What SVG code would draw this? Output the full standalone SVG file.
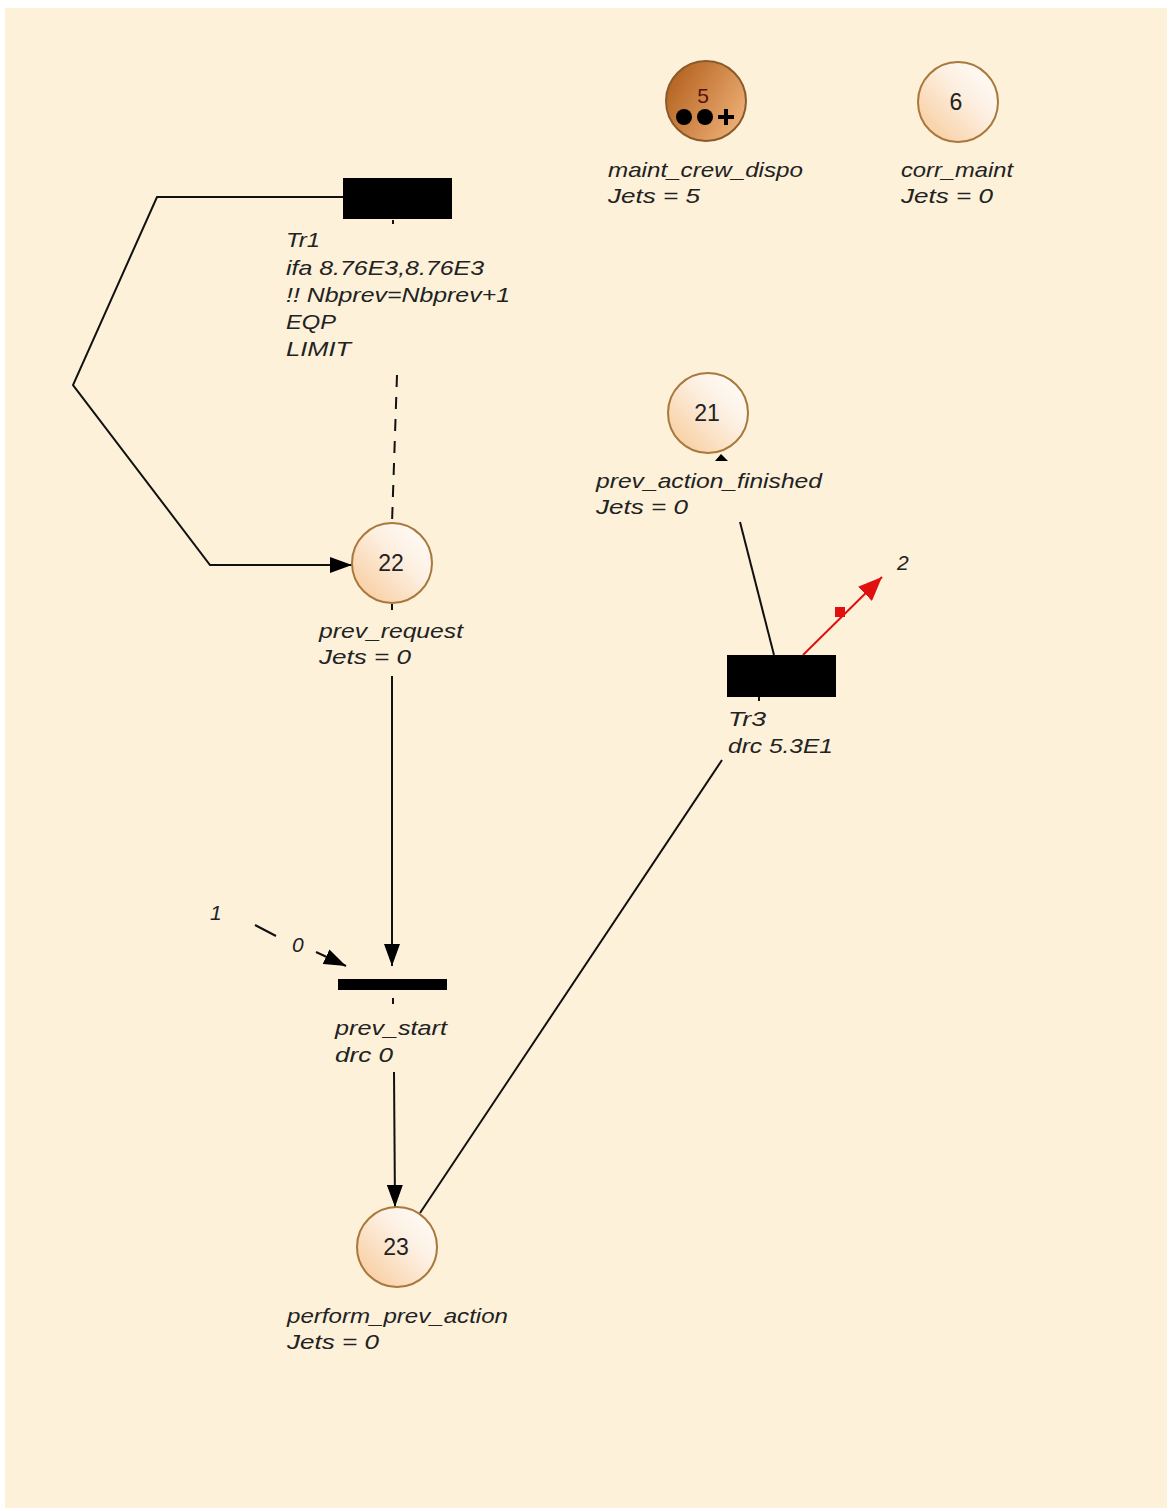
<svg xmlns="http://www.w3.org/2000/svg" width="1171" height="1511" viewBox="0 0 1171 1511">
<defs>
<linearGradient id="pl" x1="0" y1="1" x2="1" y2="0">
<stop offset="0" stop-color="#F7C794"/>
<stop offset="0.6" stop-color="#FDF0E2"/>
<stop offset="1" stop-color="#FFFFFF"/>
</linearGradient>
<linearGradient id="pd" x1="0" y1="0.2" x2="1" y2="0.8">
<stop offset="0" stop-color="#B2601C"/>
<stop offset="1" stop-color="#F0B27A"/>
</linearGradient>
<marker id="ahb" viewBox="0 0 22 16" refX="22" refY="8" markerWidth="22" markerHeight="16" markerUnits="userSpaceOnUse" orient="auto">
<path d="M0,0 L22,8 L0,16 z" fill="#000"/>
</marker>
<marker id="ahr" viewBox="0 0 24 20" refX="24" refY="10" markerWidth="24" markerHeight="20" markerUnits="userSpaceOnUse" orient="auto">
<path d="M0,0 L24,10 L0,20 z" fill="#E01010"/>
</marker>
</defs>
<style>
.bg{fill:#FDF1DA}
.place{fill:url(#pl);stroke:#A8783C;stroke-width:2}
.num{font-family:"Liberation Sans",Arial,sans-serif;font-size:23px;fill:#222;text-anchor:middle}
.lbl{font-family:"Liberation Sans",Arial,sans-serif;font-style:italic;font-size:21px;fill:#222}
.tr{fill:#000}
.arc{stroke:#111;stroke-width:2;fill:none}
</style>
<rect x="0" y="0" width="1171" height="1511" fill="#FFFFFF"/>
<rect class="bg" x="5" y="8" width="1162" height="1500"/>

<g id="connectors">
<polyline class="arc" points="343,197 157,197 73,385 210,565 352,565" marker-end="url(#ahb)"/>
<line class="arc" x1="397" y1="375" x2="392" y2="523" stroke-dasharray="12,10"/>
<line class="arc" x1="392" y1="676" x2="392" y2="966" marker-end="url(#ahb)"/>
<line class="arc" x1="394" y1="1072" x2="395" y2="1207" marker-end="url(#ahb)"/>
<line class="arc" x1="420" y1="1213" x2="722" y2="760"/>
<line class="arc" x1="774" y1="655" x2="740" y2="522"/>
<path d="M715,461 L721,454 L728,461 z" fill="#000"/>
<line x1="803" y1="655" x2="882" y2="577" stroke="#E01010" stroke-width="2" marker-end="url(#ahr)"/>
<rect x="835" y="607" width="10" height="10" fill="#E01010"/>
<line class="arc" x1="255" y1="925" x2="276" y2="936"/>
<line class="arc" x1="316" y1="952" x2="346" y2="966" marker-end="url(#ahb)"/>
<line class="arc" x1="393" y1="220" x2="393" y2="224"/>
<line class="arc" x1="392" y1="604" x2="392" y2="610"/>
<line class="arc" x1="393" y1="998" x2="393" y2="1004"/>
<line class="arc" x1="759" y1="697" x2="759" y2="701"/>
<text class="lbl" x="897" y="570">2</text>
<text class="lbl" x="210" y="920">1</text>
<text class="lbl" x="292" y="952">0</text>
</g>

<g id="p5">
<circle cx="706" cy="101" r="40" fill="url(#pd)" stroke="#8A5A2A" stroke-width="2"/>
<text x="703" y="103" font-family="Liberation Sans,Arial,sans-serif" font-size="21" fill="#5A1010" text-anchor="middle">5</text>
<circle cx="684" cy="117" r="8" fill="#000"/>
<circle cx="705" cy="117" r="8" fill="#000"/>
<path d="M718,117 h16 M726,109 v16" stroke="#000" stroke-width="4"/>
<text class="lbl" x="608" y="177" textLength="195" lengthAdjust="spacingAndGlyphs">maint_crew_dispo</text>
<text class="lbl" x="608" y="203" textLength="92" lengthAdjust="spacingAndGlyphs">Jets = 5</text>
</g>

<g id="p6">
<circle class="place" cx="958" cy="102" r="40"/>
<text class="num" x="956" y="110">6</text>
<text class="lbl" x="901" y="177" textLength="112" lengthAdjust="spacingAndGlyphs">corr_maint</text>
<text class="lbl" x="901" y="203" textLength="92" lengthAdjust="spacingAndGlyphs">Jets = 0</text>
</g>

<g id="tr1">
<rect class="tr" x="343" y="178" width="109" height="41"/>
<text class="lbl" x="286" y="247" textLength="34" lengthAdjust="spacingAndGlyphs">Tr1</text>
<text class="lbl" x="286" y="275" textLength="198" lengthAdjust="spacingAndGlyphs">ifa  8.76E3,8.76E3</text>
<text class="lbl" x="286" y="302" textLength="224" lengthAdjust="spacingAndGlyphs">!!  Nbprev=Nbprev+1</text>
<text class="lbl" x="286" y="329" textLength="50" lengthAdjust="spacingAndGlyphs">EQP</text>
<text class="lbl" x="286" y="356" textLength="65" lengthAdjust="spacingAndGlyphs">LIMIT</text>
</g>

<g id="p21">
<circle class="place" cx="708" cy="413" r="40"/>
<text class="num" x="707" y="421">21</text>
<text class="lbl" x="596" y="488" textLength="226" lengthAdjust="spacingAndGlyphs">prev_action_finished</text>
<text class="lbl" x="596" y="514" textLength="92" lengthAdjust="spacingAndGlyphs">Jets = 0</text>
</g>

<g id="p22">
<circle class="place" cx="392" cy="563" r="40"/>
<text class="num" x="391" y="571">22</text>
<text class="lbl" x="319" y="638" textLength="144" lengthAdjust="spacingAndGlyphs">prev_request</text>
<text class="lbl" x="319" y="664" textLength="92" lengthAdjust="spacingAndGlyphs">Jets = 0</text>
</g>

<g id="tr3">
<rect class="tr" x="727" y="655" width="109" height="42"/>
<text class="lbl" x="728" y="726" textLength="38" lengthAdjust="spacingAndGlyphs">Tr3</text>
<text class="lbl" x="728" y="753" textLength="105" lengthAdjust="spacingAndGlyphs">drc  5.3E1</text>
</g>

<g id="prev_start">
<rect class="tr" x="338" y="979" width="109" height="11"/>
<text class="lbl" x="335" y="1035" textLength="112" lengthAdjust="spacingAndGlyphs">prev_start</text>
<text class="lbl" x="335" y="1062" textLength="58" lengthAdjust="spacingAndGlyphs">drc  0</text>
</g>

<g id="p23">
<circle class="place" cx="397" cy="1247" r="40"/>
<text class="num" x="396" y="1255">23</text>
<text class="lbl" x="287" y="1323" textLength="221" lengthAdjust="spacingAndGlyphs">perform_prev_action</text>
<text class="lbl" x="287" y="1349" textLength="92" lengthAdjust="spacingAndGlyphs">Jets = 0</text>
</g>
</svg>
